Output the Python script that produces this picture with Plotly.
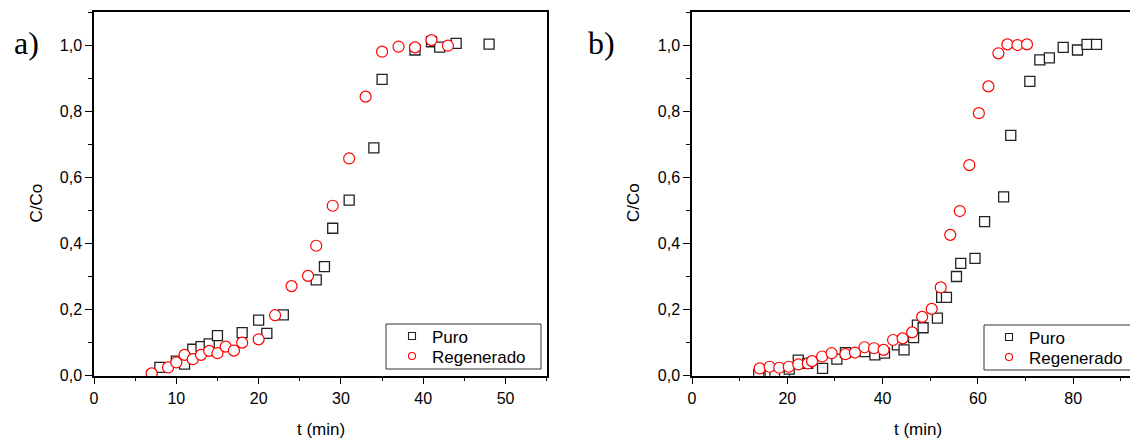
import plotly.graph_objects as go

# ---- Panel a) ----
a_puro_t = [7, 8, 10, 11, 12, 13, 14, 15, 18, 20, 21, 23, 27, 28, 29, 31, 34, 35, 39, 41, 42, 44, 48]
a_puro_c = [0.0, 0.025, 0.044, 0.035, 0.08, 0.088, 0.096, 0.121, 0.13, 0.168, 0.128, 0.184,
            0.29, 0.33, 0.446, 0.531, 0.689, 0.896, 0.985, 1.01, 0.994, 1.005, 1.003]
a_reg_t = [7, 9, 10, 11, 12, 13, 14, 15, 16, 17, 18, 20, 22, 24, 26, 27, 29, 31, 33, 35, 37, 39, 41, 43]
a_reg_c = [0.007, 0.025, 0.04, 0.063, 0.05, 0.063, 0.075, 0.068, 0.088, 0.076, 0.1, 0.11,
           0.183, 0.271, 0.302, 0.393, 0.514, 0.657, 0.844, 0.98, 0.995, 0.993, 1.015, 0.998]

# ---- Panel b) ----
b_puro_t = [14, 16.4, 17.4, 19.4, 20.4, 22.3, 24.3, 27.4, 30.4, 32.2, 36.3, 38.4, 40.4, 43.1,
            44.5, 46.5, 47.3, 48.5, 51.5, 52.4, 53.4, 55.5, 56.4, 59.4, 61.4, 65.4, 66.9,
            70.9, 73, 75, 77.9, 80.9, 82.9, 84.9]
b_puro_c = [0.004, 0.008, 0.012, 0.012, 0.02, 0.047, 0.037, 0.022, 0.05, 0.07, 0.073, 0.063,
            0.068, 0.093, 0.078, 0.115, 0.153, 0.145, 0.174, 0.237, 0.237, 0.3, 0.34, 0.355,
            0.466, 0.541, 0.727, 0.89, 0.955, 0.961, 0.993, 0.985, 1.002, 1.002]
b_reg_t = [14.2, 16.3, 18.3, 20.3, 22.3, 24.3, 25.2, 27.3, 29.3, 32.2, 34.2, 36.2, 38.2, 40.2,
           42.2, 44.2, 46.2, 48.3, 50.3, 52.2, 54.2, 56.2, 58.2, 60.2, 62.2, 64.3, 66.2, 68.3, 70.3]
b_reg_c = [0.022, 0.027, 0.024, 0.027, 0.034, 0.037, 0.044, 0.058, 0.068, 0.065, 0.07, 0.086,
           0.083, 0.078, 0.108, 0.113, 0.131, 0.178, 0.202, 0.267, 0.426, 0.498, 0.637, 0.794,
           0.875, 0.975, 1.002, 1.0, 1.002]

series_names = ["Puro", "Regenerado"]

PAGE_W, PAGE_H = 1138, 441
OFF = 8                      # default body margin of the HTML page
W, H = PAGE_W - OFF, PAGE_H - OFF
FONT = "Liberation Sans, Arial, sans-serif"
SERIF = "Liberation Serif, Times New Roman, serif"


def px_x(p):
    """page pixel x -> paper fraction"""
    return (p - OFF) / W


def px_y(p):
    """page pixel y -> paper fraction"""
    return (PAGE_H - p) / H


sq = dict(symbol="square", size=10, color="white", line=dict(color="#222", width=1.3))
ci = dict(symbol="circle", size=11, color="white", line=dict(color="#ff0000", width=1.2))

fig = go.Figure()
fig.add_trace(go.Scatter(x=a_puro_t, y=a_puro_c, mode="markers", marker=sq, showlegend=False,
                         xaxis="x", yaxis="y"))
fig.add_trace(go.Scatter(x=a_reg_t, y=a_reg_c, mode="markers", marker=ci, showlegend=False,
                         xaxis="x", yaxis="y"))
fig.add_trace(go.Scatter(x=b_puro_t, y=b_puro_c, mode="markers", marker=sq, showlegend=False,
                         xaxis="x2", yaxis="y2"))
fig.add_trace(go.Scatter(x=b_reg_t, y=b_reg_c, mode="markers", marker=ci, showlegend=False,
                         xaxis="x2", yaxis="y2"))

# legend entries: one legend per entry so the row spacing matches the original
lsq = dict(symbol="square-open", size=7, color="#222", line=dict(width=1.1))
lci = dict(symbol="circle-open", size=7, color="#ff0000", line=dict(width=1.1))
legend_specs = [
    # (legend id, axis pair, name, marker, left px, center y px)
    ("legend", ("x", "y"), series_names[0], lsq, 392, 336.5),
    ("legend2", ("x", "y"), series_names[1], lci, 392, 356.5),
    ("legend3", ("x2", "y2"), series_names[0], lsq, 989, 337.5),
    ("legend4", ("x2", "y2"), series_names[1], lci, 989, 357.5),
]
leg_layout = {}
for lg, (xa_, ya_), nm, mk, lx, ly in legend_specs:
    fig.add_trace(go.Scatter(x=[None], y=[None], mode="markers", marker=mk, name=nm,
                             legend=lg, xaxis=xa_, yaxis=ya_))
    leg_layout[lg] = dict(bgcolor="rgba(0,0,0,0)", borderwidth=0,
                          font=dict(family=FONT, size=17, color="black"),
                          x=px_x(lx), y=px_y(ly), xanchor="left", yanchor="middle")

yb, yt = px_y(375.7), px_y(12)

common_ax = dict(showline=True, linecolor="black", linewidth=1.5, ticks="outside", ticklen=7,
                 tickwidth=1.3, tickcolor="black", showgrid=False, zeroline=False, automargin=False,
                 tickfont=dict(family=FONT, size=16, color="black"))
mn = dict(ticks="outside", ticklen=4, tickcolor="black", tickwidth=1.3)

xa = dict(common_ax, domain=[px_x(94), px_x(546.7)], range=[0, 55], dtick=10, tick0=0, mirror=True,
          anchor="y", minor=dict(mn, dtick=5))
ya = dict(common_ax, domain=[yb, yt], range=[0, 1.1], dtick=0.2, tick0=0, tickformat=".1f",
          mirror=True, anchor="x", minor=dict(mn, dtick=0.1))
xb = dict(common_ax, domain=[px_x(692), 1.0], range=[0, 93.6], dtick=20, tick0=0, mirror=True,
          anchor="y2", minor=dict(mn, dtick=10))
yb2 = dict(common_ax, domain=[yb, yt], range=[0, 1.1], dtick=0.2, tick0=0, tickformat=".1f",
           mirror=False, anchor="x2", minor=dict(mn, dtick=0.1))

shapes = [
    dict(type="rect", xref="paper", yref="paper", x0=px_x(386), x1=px_x(541), y0=px_y(369),
         y1=px_y(324), line=dict(color="#333", width=1), fillcolor="white", layer="above"),
    dict(type="rect", xref="paper", yref="paper", x0=px_x(984), x1=px_x(1137), y0=px_y(370),
         y1=px_y(325), line=dict(color="#333", width=1), fillcolor="white", layer="above"),
]

ann_font = dict(family=FONT, size=17, color="black")
annotations = [
    dict(text="a)", x=px_x(26), y=px_y(43), font=dict(family=SERIF, size=32, color="black")),
    dict(text="b)", x=px_x(601), y=px_y(43), font=dict(family=SERIF, size=32, color="black")),
    dict(text="C/Co", x=px_x(35.5), y=px_y(203), textangle=-90, font=ann_font),
    dict(text="C/Co", x=px_x(633), y=px_y(203), textangle=-90, font=ann_font),
    dict(text="t (min)", x=px_x(320.5), y=px_y(429), font=ann_font),
    dict(text="t (min)", x=px_x(918), y=px_y(429), font=ann_font),
]
for a in annotations:
    a.update(xref="paper", yref="paper", showarrow=False, xanchor="center", yanchor="middle")

fig.update_layout(
    width=W, height=H, margin=dict(l=0, r=0, t=0, b=0, autoexpand=False),
    paper_bgcolor="white", plot_bgcolor="white",
    separators=",.",
    xaxis=xa, yaxis=ya, xaxis2=xb, yaxis2=yb2,
    shapes=shapes, annotations=annotations,
    **leg_layout,
)

fig.write_html("out.html")
